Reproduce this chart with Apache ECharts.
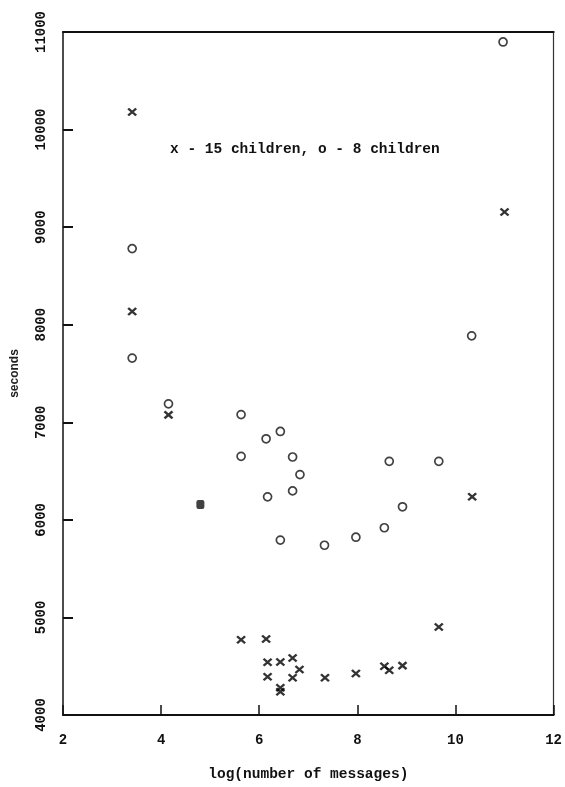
<!DOCTYPE html>
<html>
<head>
<meta charset="utf-8">
<script src="https://cdn.jsdelivr.net/npm/echarts@6/dist/echarts.min.js"></script>
<style>
html,body{margin:0;padding:0;background:#fff;}
#chart{width:565px;height:787px;}
</style>
</head>
<body>
<div id="chart"></div>
<script>
// 15 children (x markers): [log(number of messages), seconds]
const children15 = [
  [3.41, 10180], [3.41, 8135], [4.15, 7076], [5.63, 4772], [6.14, 4779],
  [6.17, 4541], [6.17, 4391], [6.43, 4544], [6.43, 4279], [6.43, 4238],
  [6.68, 4585], [6.68, 4381], [6.82, 4466], [7.34, 4381], [7.97, 4425],
  [8.55, 4500], [8.65, 4459], [8.92, 4506], [9.66, 4902], [10.34, 6236],
  [11.0, 9156]
];
// 8 children (o markers)
const children8 = [
  [3.41, 8780], [3.41, 7658], [4.15, 7189], [5.63, 7079], [5.63, 6651],
  [6.14, 6831], [6.17, 6236], [6.43, 6906], [6.43, 5793], [6.68, 6644],
  [6.68, 6297], [6.83, 6464], [7.33, 5740], [7.97, 5822], [8.55, 5919],
  [8.65, 6600], [8.92, 6134], [9.66, 6600], [10.33, 7886], [10.97, 10898]
];
// overprinted (filled) point
const overlapPoint = [[4.80, 6157]];

const xTicks = [2, 4, 6, 8, 10, 12];
const yTicks = [4000, 5000, 6000, 7000, 8000, 9000, 10000, 11000];
const legendText = 'x - 15 children, o - 8 children';
const xTitle = 'log(number of messages)';
const yTitle = 'seconds';

const chart = echarts.init(document.getElementById('chart'), null, {renderer: 'canvas'});
const mono = '"Liberation Mono", "DejaVu Sans Mono", monospace';
const ink = '#111';

chart.setOption({
  backgroundColor: '#fff',
  animation: false,
  grid: {left: 63, right: 10, top: 32, bottom: 70, show: false},
  xAxis: [{
    type: 'value', min: xTicks[0], max: xTicks[xTicks.length - 1], interval: 2,
    position: 'bottom',
    axisLine: {lineStyle: {color: ink, width: 2}},
    axisTick: {inside: true, length: 10, lineStyle: {color: ink, width: 1.5}},
    axisLabel: {margin: 18, color: ink, fontFamily: mono, fontSize: 14, fontWeight: 'bold',
      formatter: v => String(v)},
    splitLine: {show: false},
    name: xTitle, nameLocation: 'middle', nameGap: 52,
    nameTextStyle: {color: ink, fontFamily: mono, fontSize: 14.5, fontWeight: 'bold'}
  }, {
    type: 'value', min: xTicks[0], max: xTicks[xTicks.length - 1], interval: 2,
    position: 'top',
    axisLine: {lineStyle: {color: ink, width: 2.2}},
    axisTick: {show: false}, axisLabel: {show: false}, splitLine: {show: false}
  }],
  yAxis: [{
    type: 'value', min: yTicks[0], max: yTicks[yTicks.length - 1], interval: 1000,
    position: 'left',
    axisLine: {lineStyle: {color: ink, width: 1.5}},
    axisTick: {inside: true, length: 10, lineStyle: {color: ink, width: 2}},
    axisLabel: {rotate: 90, margin: 15, color: ink, fontFamily: mono, fontSize: 14, fontWeight: 'bold',
      formatter: v => String(v)},
    splitLine: {show: false},
    name: yTitle, nameLocation: 'middle', nameGap: 42, nameRotate: 90,
    nameTextStyle: {color: '#222', fontFamily: '"Liberation Sans", Arial, sans-serif', fontSize: 12, fontWeight: 'bold'}
  }, {
    type: 'value', min: yTicks[0], max: yTicks[yTicks.length - 1], interval: 1000,
    position: 'right',
    axisLine: {lineStyle: {color: '#333', width: 1.2}},
    axisTick: {show: false}, axisLabel: {show: false}, splitLine: {show: false}
  }],
  graphic: [{
    type: 'text', left: 170, top: 142,
    style: {text: legendText, fill: ink, font: 'bold 14.5px ' + mono}
  }],
  series: [{
    name: '15 children', type: 'scatter', data: children15,
    symbol: 'path://M0,0L10,10M10,0L0,10', symbolSize: [8, 7],
    itemStyle: {color: 'none', borderColor: '#000', borderWidth: 2.3}
  }, {
    name: '8 children', type: 'scatter', data: children8,
    symbol: 'circle', symbolSize: 8,
    itemStyle: {color: 'rgba(255,255,255,0)', borderColor: ink, borderWidth: 1.7}
  }, {
    name: 'overlap', type: 'scatter', data: overlapPoint,
    symbol: 'roundRect', symbolSize: [8, 9],
    itemStyle: {color: ink}
  }]
});
</script>
</body>
</html>
